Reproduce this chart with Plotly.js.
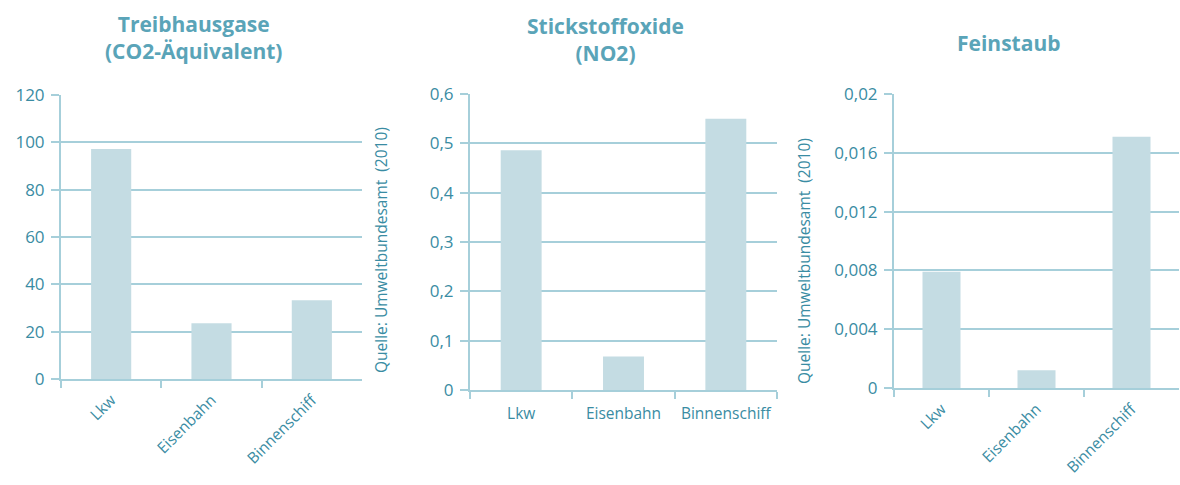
<!DOCTYPE html>
<html>
<head>
<meta charset="utf-8">
<script src="https://cdn.plot.ly/plotly-3.0.1.min.js"></script>
<style>html,body{margin:0;padding:0;background:#fff;}#chart{width:1180px;height:485px;}</style>
</head>
<body>
<div id="chart"></div>
<script>
const categories = ['Lkw', 'Eisenbahn', 'Binnenschiff'];
const treibhausgase = [97.2, 23.6, 33.3];
const stickstoffoxide = [0.486, 0.068, 0.55];
const feinstaub = [0.0079, 0.0012, 0.0171];

const titles = ['<b>Treibhausgase</b><br><b>(CO2-Äquivalent)</b>', '<b>Stickstoffoxide</b><br><b>(NO2)</b>', '<b>Feinstaub</b>'];
const sourceText = 'Quelle: Umweltbundesamt  (2010)';

const W = 1180, H = 485;
const barColor = '#c4dce3';
const textColor = '#3a8ca3';
const titleColor = '#5aa4b8';
const gridColor = '#a6cfda';
const fontFam = '"Open Sans", "DejaVu Sans", sans-serif';

function px(x) { return x / W; }
function py(y) { return 1 - y / H; }

const traces = [
  {type: 'bar', x: categories, y: treibhausgase, xaxis: 'x', yaxis: 'y', marker: {color: barColor}, hoverinfo: 'none'},
  {type: 'bar', x: categories, y: stickstoffoxide, xaxis: 'x2', yaxis: 'y2', marker: {color: barColor}, hoverinfo: 'none'},
  {type: 'bar', x: categories, y: feinstaub, xaxis: 'x3', yaxis: 'y3', marker: {color: barColor}, hoverinfo: 'none'}
];

function xax(d0, d1, anchor, angle, standoff) {
  return {
    domain: [px(d0), px(d1)], anchor: anchor, type: 'category',
    showline: true, linecolor: gridColor, linewidth: 2,
    ticks: 'outside', ticklen: 7, tickcolor: gridColor, tickwidth: 2,
    tickson: 'boundaries', tickangle: angle, showgrid: false,
    ticklabelstandoff: standoff,
    tickfont: {family: fontFam, size: 15.5, color: textColor},
    fixedrange: true
  };
}
function yax(y0, y1, anchor, range, dtick) {
  return {
    domain: [py(y1), py(y0)], anchor: anchor, range: range, dtick: dtick, tick0: 0,
    showline: true, linecolor: gridColor, linewidth: 2,
    ticks: 'outside', ticklen: 8, tickcolor: gridColor, tickwidth: 2,
    showgrid: true, gridcolor: gridColor, gridwidth: 2,
    zeroline: false,
    ticklabelstandoff: 3,
    tickfont: {family: fontFam, size: 17, color: textColor},
    fixedrange: true
  };
}

const layout = {
  width: W, height: H,
  margin: {l: 0, r: 0, t: 0, b: 0},
  paper_bgcolor: '#fff', plot_bgcolor: '#fff',
  showlegend: false,
  separators: ',.',
  bargap: 0.6,
  xaxis: xax(61, 362, 'y', -45, 4),
  yaxis: yax(95, 379, 'x', [0, 120], 20),
  xaxis2: xax(470, 777, 'y2', 0, 8),
  yaxis2: yax(94, 390, 'x2', [0, 0.6], 0.1),
  xaxis3: xax(894, 1179, 'y3', -45, 4),
  yaxis3: yax(94, 388, 'x3', [0, 0.02], 0.004),
  annotations: [
    {text: titles[0], x: px(193), y: py(38), xref: 'paper', yref: 'paper', showarrow: false, xanchor: 'center', yanchor: 'middle', font: {family: fontFam, size: 21, color: titleColor}},
    {text: titles[1], x: px(605), y: py(39), xref: 'paper', yref: 'paper', showarrow: false, xanchor: 'center', yanchor: 'middle', font: {family: fontFam, size: 21, color: titleColor}},
    {text: titles[2], x: px(1008), y: py(43), xref: 'paper', yref: 'paper', showarrow: false, xanchor: 'center', yanchor: 'middle', font: {family: fontFam, size: 21, color: titleColor}},
    {text: sourceText, x: px(381), y: py(250), xref: 'paper', yref: 'paper', showarrow: false, textangle: -90, xanchor: 'center', yanchor: 'middle', font: {family: fontFam, size: 15.5, color: textColor}},
    {text: sourceText, x: px(804), y: py(261), xref: 'paper', yref: 'paper', showarrow: false, textangle: -90, xanchor: 'center', yanchor: 'middle', font: {family: fontFam, size: 15.5, color: textColor}}
  ]
};

Plotly.newPlot('chart', traces, layout, {displayModeBar: false, staticPlot: true});
</script>
</body>
</html>
